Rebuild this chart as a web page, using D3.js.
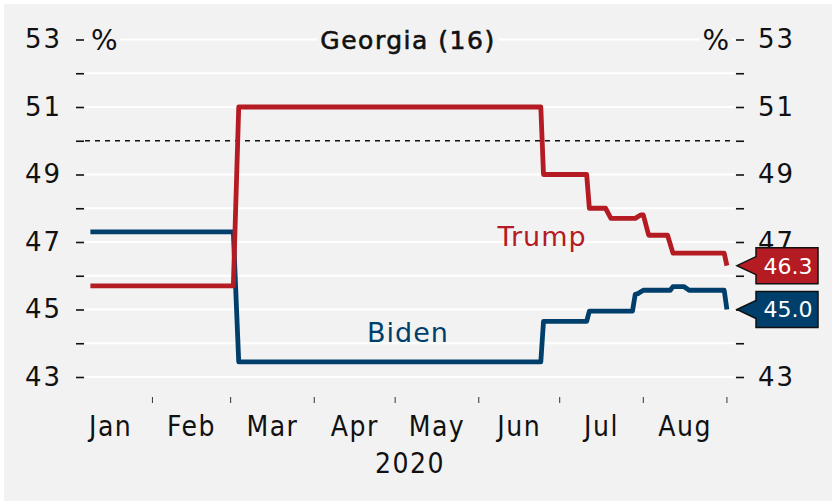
<!DOCTYPE html>
<html>
<head>
<meta charset="utf-8">
<script src="https://cdn.jsdelivr.net/npm/d3@7"></script>
<style>
  html, body { margin: 0; padding: 0; background: #ffffff; }
  svg { display: block; }
</style>
</head>
<body>
<svg id="chart" width="832" height="501"></svg>
<script>
// Poll averages for Georgia, 2020
const trumpDates  = ["2020-01-09","2020-03-02","2020-03-04","2020-06-24","2020-06-25","2020-07-11","2020-07-12","2020-07-18","2020-07-20","2020-07-29","2020-07-31","2020-08-01","2020-08-03","2020-08-10","2020-08-12","2020-08-31","2020-09-01"];
const trumpValues = [45.7, 45.7, 51.0, 51.0, 49.0, 49.0, 48.0, 48.0, 47.7, 47.7, 47.8, 47.8, 47.2, 47.2, 46.67, 46.67, 46.3];

const bidenDates  = ["2020-01-09","2020-03-02","2020-03-04","2020-06-24","2020-06-25","2020-07-11","2020-07-12","2020-07-28","2020-07-29","2020-07-30","2020-08-01","2020-08-11","2020-08-12","2020-08-16","2020-08-18","2020-08-31","2020-09-01"];
const bidenValues = [47.3, 47.3, 43.45, 43.45, 44.65, 44.65, 44.95, 44.95, 45.45, 45.47, 45.57, 45.57, 45.68, 45.68, 45.57, 45.57, 45.0];

const yTicks = [43, 44, 45, 46, 47, 48, 49, 50, 51, 52, 53];
const yLabels = [43, 45, 47, 49, 51, 53];
const monthStarts = ["2020-01-01","2020-02-01","2020-03-01","2020-04-01","2020-05-01","2020-06-01","2020-07-01","2020-08-01","2020-09-01"];
const monthNames = ["Jan","Feb","Mar","Apr","May","Jun","Jul","Aug"];
const yearLabel = "2020";
const titleText = "Georgia (16)";
const majorityLine = 50;

const RED = "#b41b22";
const BLUE = "#003f6b";
const BG = "#f2f2f2";

const parse = d3.utcParse("%Y-%m-%d");
const trump = trumpDates.map((d, i) => ({ date: parse(d), value: trumpValues[i] }));
const biden = bidenDates.map((d, i) => ({ date: parse(d), value: bidenValues[i] }));
const trumpLast = trumpValues[trumpValues.length - 1];
const bidenLast = bidenValues[bidenValues.length - 1];

const svg = d3.select("#chart");
svg.append("rect").attr("x", 4).attr("y", 4).attr("width", 828).attr("height", 497).attr("fill", BG);

const x = d3.scaleUtc().domain([parse("2020-01-07"), parse("2020-09-04")]).range([85, 735]);
const y = d3.scaleLinear().domain([43, 53]).range([377, 39.5]);

// horizontal gridlines
svg.append("g").selectAll("line").data(yTicks.filter(d => d !== majorityLine)).join("line")
  .attr("x1", 85).attr("x2", 735)
  .attr("y1", d => y(d)).attr("y2", d => y(d))
  .attr("stroke", "#ffffff")
  .attr("stroke-width", 2);

// 50% line
svg.append("line")
  .attr("x1", 85).attr("x2", 735)
  .attr("y1", y(majorityLine)).attr("y2", y(majorityLine))
  .attr("stroke", "#111").attr("stroke-width", 1.5).attr("stroke-dasharray", "5,5");

// left and right value axes
const numFont = "'DejaVu Sans', sans-serif";
const leftAxis = d3.axisLeft(y).tickValues(yTicks).tickSize(8).tickPadding(14)
  .tickFormat(d => yLabels.includes(d) ? d : "");
// the right-hand 45 sits under the Biden end tag
const rightAxis = d3.axisRight(y).tickValues(yTicks).tickSize(8).tickPadding(14)
  .tickFormat(d => yLabels.includes(d) && d !== Math.round(bidenLast) ? d : "");

function styleAxis(g) {
  g.select(".domain").remove();
  g.selectAll(".tick line").attr("stroke", "#111").attr("stroke-width", 1.6);
  g.selectAll(".tick text")
    .attr("fill", "#111")
    .style("font-family", numFont)
    .style("font-size", "26px")
    .style("letter-spacing", "2px");
}
svg.append("g").attr("transform", "translate(84,0)").call(leftAxis).call(styleAxis);
svg.append("g").attr("transform", "translate(736,0)").call(rightAxis).call(styleAxis);

// percent signs and title with background patches
function labelWithBg(text, xPos, anchor, size, spacing, outline) {
  const g = svg.append("g");
  const t = g.append("text")
    .attr("x", xPos).attr("y", y(53)).attr("dy", "0.36em")
    .attr("text-anchor", anchor)
    .attr("fill", "#111")
    .attr("stroke", outline ? "#111" : "none")
    .attr("stroke-width", outline)
    .style("font-family", numFont)
    .style("font-size", size + "px")
    .style("letter-spacing", spacing + "px")
    .text(text);
  const b = t.node().getBBox();
  g.insert("rect", "text").attr("x", b.x - 3).attr("y", b.y).attr("width", b.width + 6).attr("height", b.height).attr("fill", BG);
}
labelWithBg("%", 91, "start", 28, 0, 0);
labelWithBg("%", 729, "end", 28, 0, 0);
labelWithBg(titleText, 408, "middle", 25, 1.5, 0.6);

// month ticks and labels
svg.append("g").selectAll("line").data(monthStarts.slice(1)).join("line")
  .attr("x1", d => x(parse(d))).attr("x2", d => x(parse(d)))
  .attr("y1", 397).attr("y2", 403)
  .attr("stroke", "#333").attr("stroke-width", 1);

const monthFont = "'DejaVu Sans Condensed', 'DejaVu Sans', sans-serif";
svg.append("g").selectAll("text").data(monthNames).join("text")
  .attr("x", (d, i) => (x(parse(monthStarts[i])) + x(parse(monthStarts[i + 1]))) / 2)
  .attr("y", 436)
  .attr("text-anchor", "middle")
  .attr("fill", "#111")
  .style("font-family", monthFont)
  .style("font-size", "28px")
  .style("letter-spacing", "1.5px")
  .text(d => d);

svg.append("text")
  .attr("x", 410).attr("y", 473)
  .attr("text-anchor", "middle")
  .attr("fill", "#111")
  .style("font-family", monthFont)
  .style("font-size", "28px")
  .style("letter-spacing", "1.5px")
  .text(yearLabel);

// series lines
const line = d3.line().x(d => x(d.date)).y(d => y(d.value));
svg.append("path").datum(biden).attr("d", line)
  .attr("fill", "none").attr("stroke", BLUE).attr("stroke-width", 4.8)
  .attr("stroke-linejoin", "round");
svg.append("path").datum(trump).attr("d", line)
  .attr("fill", "none").attr("stroke", RED).attr("stroke-width", 4.8)
  .attr("stroke-linejoin", "round");

// series names
svg.append("text").attr("x", 542).attr("y", 246).attr("text-anchor", "middle")
  .attr("fill", RED).style("font-family", "'DejaVu Sans', sans-serif").style("font-size", "27px")
  .style("letter-spacing", "1px")
  .text("Trump");
svg.append("text").attr("x", 408).attr("y", 342).attr("text-anchor", "middle")
  .attr("fill", BLUE).style("font-family", "'DejaVu Sans', sans-serif").style("font-size", "27px")
  .style("letter-spacing", "1px")
  .text("Biden");

// end-value tags
function tag(value, color) {
  const cy = y(value);
  const tipX = 737, boxL = 756, boxR = 818, h = 36;
  const g = svg.append("g");
  g.append("path")
    .attr("d", `M${tipX},${cy} L${boxL},${cy - 9} L${boxL},${cy - h / 2} L${boxR},${cy - h / 2} L${boxR},${cy + h / 2} L${boxL},${cy + h / 2} L${boxL},${cy + 9} Z`)
    .attr("fill", color).attr("stroke", "#111").attr("stroke-width", 1.5).attr("stroke-linejoin", "miter");
  g.append("text")
    .attr("x", (boxL + boxR) / 2 + 1).attr("y", cy).attr("dy", "0.36em")
    .attr("text-anchor", "middle").attr("fill", "#ffffff")
    .style("font-family", numFont).style("font-size", "22px")
    .text(value.toFixed(1));
}
tag(trumpLast, RED);
tag(bidenLast, BLUE);
</script>
</body>
</html>
